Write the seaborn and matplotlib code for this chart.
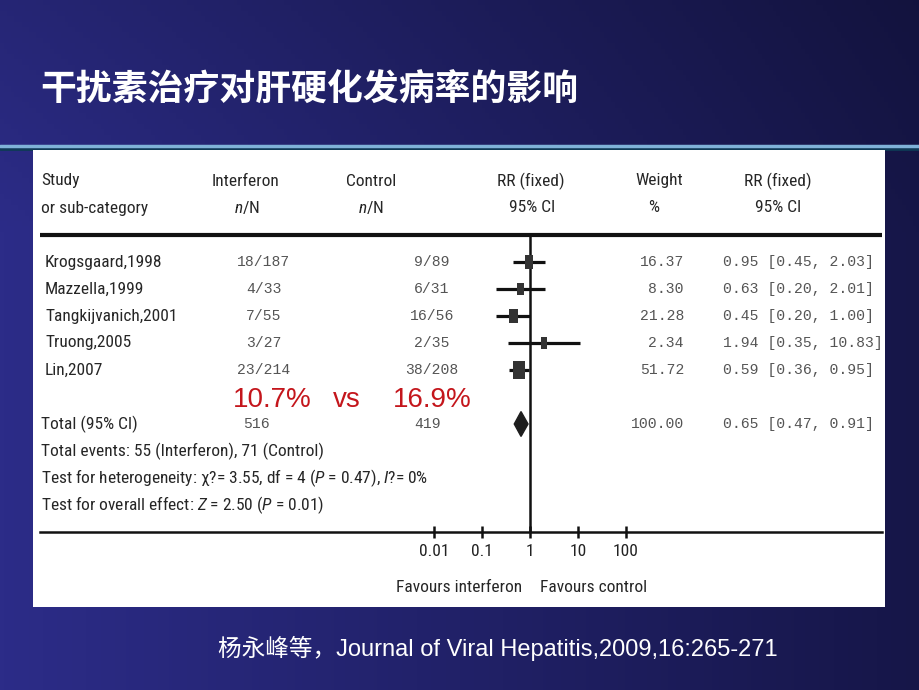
import numpy as np
import matplotlib
matplotlib.use("Agg")
import matplotlib.pyplot as plt
import seaborn as sns
import pandas as pd
from matplotlib.path import Path
from matplotlib.markers import MarkerStyle
from matplotlib import font_manager as fm

# ---------------- data ----------------
title = "干扰素治疗对肝硬化发病率的影响"
citation = "杨永峰等，Journal of Viral Hepatitis,2009,16:265-271"
studies = ["Krogsgaard,1998", "Mazzella,1999", "Tangkijvanich,2001", "Truong,2005", "Lin,2007"]
ifn_events = ["18/187", "4/33", "7/55", "3/27", "23/214"]
ctrl_events = ["9/89", "6/31", "16/56", "2/35", "38/208"]
weights = [16.37, 8.30, 21.28, 2.34, 51.72]
rr = [0.95, 0.63, 0.45, 1.94, 0.59]
rr_lo = [0.45, 0.20, 0.20, 0.35, 0.36]
rr_hi = [2.03, 2.01, 1.00, 10.83, 0.95]
total_ifn = "516"
total_ctrl = "419"
total_rr, total_lo, total_hi = 0.65, 0.47, 0.91
total_weight = 100.00
rate_ifn, rate_ctrl = "10.7%", "16.9%"
x_ticks = [0.01, 0.1, 1, 10, 100]
x_tick_labels = ["0.01", "0.1", "1", "10", "100"]

# ---------------- style ----------------
sns.set_theme(style="white")
entries = fm.fontManager.ttflist
names = {f.name for f in entries}

SANS, STRETCH = "Liberation Sans", "normal"
for cand in ["Liberation Sans Narrow", "Arial Narrow", "Roboto Condensed", "Open Sans Condensed",
             "Noto Sans Condensed", "DejaVu Sans Condensed"]:
    if cand in names:
        SANS = cand
        break
else:
    for f in entries:
        if f.name in ("Noto Sans", "Roboto", "Open Sans", "DejaVu Sans", "Liberation Sans") \
                and str(f.stretch) in ("condensed", "semi-condensed", "extra-condensed") \
                and str(f.style) == "normal":
            SANS, STRETCH = f.name, str(f.stretch)
            break
MONO = "Liberation Mono" if "Liberation Mono" in names else "DejaVu Sans Mono"

plt.rcParams["font.family"] = [SANS, "DejaVu Sans"]
plt.rcParams["mathtext.fontset"] = "custom"
plt.rcParams["mathtext.rm"] = SANS
plt.rcParams["mathtext.it"] = SANS + ":italic"
plt.rcParams["mathtext.bf"] = SANS + ":bold"

W, H = 920, 690
fig = plt.figure(figsize=(W / 100, H / 100), dpi=100)
renderer = fig.canvas.get_renderer()

# fit the table font so that a study name has about the reference width
probe = fig.text(0, 0, "Krogsgaard,1998", fontsize=13, family=SANS, fontstretch=STRETCH)
wpx = probe.get_window_extent(renderer).width
probe.remove()
FS = float(np.clip(13 * 116 / wpx, 11.2, 14))

# background gradient
bg = fig.add_axes([0, 0, 1, 1])
bg.axis("off")
gx = np.linspace(0, 1, 256)
gy = np.linspace(0, 1, 128)
left = np.array([44, 44, 136]) / 255
right = np.array([22, 22, 72]) / 255
grad = left[None, None, :] * (1 - gx[None, :, None]) + right[None, None, :] * gx[None, :, None]
shade = (0.86 + 0.14 * np.clip(gy * 3, 0, 1))[:, None, None]
img = np.clip(grad * shade, 0, 1)
bg.imshow(img, aspect="auto", extent=[0, 1, 0, 1], origin="upper")
bg.set_xlim(0, 1)
bg.set_ylim(0, 1)
bg.axhline(1 - 148.5 / H, color="#0e3a55", lw=2)
bg.axhline(1 - 145.5 / H, color="#7fb2d8", lw=2.5)

fig.text(40 / W, 1 - 90 / H, title, color="white", fontsize=25.8, fontweight="bold",
         family=["Noto Sans CJK SC"], va="center", ha="left")
fig.text(218 / W, 1 - 648 / H, citation, color="white", fontsize=17,
         family=["Liberation Sans", "Noto Sans CJK SC"], va="center", ha="left")

# ---------------- forest panel ----------------
PX0, PX1, PY0, PY1 = 33, 885, 150, 607
X1PX, DEC = 530, 48          # pixel of RR=1 and pixels per decade
ROW0, ROWH = 262, 27         # pixel of first row and row height

ax = fig.add_axes([PX0 / W, 1 - PY1 / H, (PX1 - PX0) / W, (PY1 - PY0) / H])
ax.set_facecolor("white")
ax.set_xscale("log")
ax.set_xlim(10 ** ((PX0 - X1PX) / DEC), 10 ** ((PX1 - X1PX) / DEC))
ax.set_ylim((PY1 - ROW0) / ROWH, (PY0 - ROW0) / ROWH)

def fx(px):
    return (px - PX0) / (PX1 - PX0)

T = ax.get_yaxis_transform()
rows = np.arange(len(studies))
ROW_TOTAL, ROW_RATE, ROW_AXIS = 6, 5.1, 10

# spines / axis
for s in ["left", "top", "right"]:
    ax.spines[s].set_visible(False)
ax.spines["bottom"].set_position(("data", ROW_AXIS))
ax.spines["bottom"].set_bounds(10 ** ((40 - X1PX) / DEC), 10 ** ((882 - X1PX) / DEC))
ax.spines["bottom"].set_linewidth(1.8)
ax.spines["bottom"].set_color("#111111")
ax.set_xticks(x_ticks, x_tick_labels)
ax.xaxis.set_minor_locator(matplotlib.ticker.NullLocator())
ax.tick_params(axis="x", direction="inout", length=8, width=1.8, colors="#111111",
               labelsize=FS, pad=5, bottom=True)
for lab in ax.get_xticklabels():
    lab.set_color("#222222")
    lab.set_fontstretch(STRETCH)
ax.set_yticks([])

# header rule and null line
ax.plot([fx(40), fx(882)], [-1, -1], transform=T, color="#111111", lw=3, solid_capstyle="butt")
ax.vlines(1, -1, ROW_AXIS, color="#111111", lw=1.8, zorder=3)

# CI lines and weighted boxes
ax.hlines(rows, rr_lo, rr_hi, color="#111111", lw=2.3, zorder=3)
df = pd.DataFrame({"rr": rr, "row": rows, "w": weights})
box = Path([(-0.3, -0.5), (0.3, -0.5), (0.3, 0.5), (-0.3, 0.5), (-0.3, -0.5)],
           [Path.MOVETO, Path.LINETO, Path.LINETO, Path.LINETO, Path.CLOSEPOLY])
sns.scatterplot(data=df, x="rr", y="row", size="w", sizes=(63, 187), marker=MarkerStyle(box),
                color="#333333", linewidth=0, legend=False, ax=ax, zorder=4)
ax.set_xlabel("")
ax.set_ylabel("")

# pooled diamond
ax.fill([total_lo, total_rr, total_hi, total_rr],
        [ROW_TOTAL, ROW_TOTAL - 0.46, ROW_TOTAL, ROW_TOTAL + 0.46], color="#1e1e1e", zorder=4)

# texts
HC = "#262626"
hdr = dict(transform=T, fontsize=FS, color=HC, va="center", fontstretch=STRETCH)
ax.text(fx(41), -3, "Study", ha="left", **hdr)
ax.text(fx(41), -2, "or sub-category", ha="left", **hdr)
ax.text(fx(246), -3, "Interferon", ha="center", **hdr)
ax.text(fx(247), -2, "$n$/N", ha="center", **hdr)
ax.text(fx(371), -3, "Control", ha="center", **hdr)
ax.text(fx(371), -2, "$n$/N", ha="center", **hdr)
ax.text(fx(531), -3, "RR (fixed)", ha="center", **hdr)
ax.text(fx(532), -2, "95% CI", ha="center", **hdr)
ax.text(fx(659), -3, "Weight", ha="center", **hdr)
ax.text(fx(654), -2, "%", ha="center", **hdr)
ax.text(fx(778), -3, "RR (fixed)", ha="center", **hdr)
ax.text(fx(778), -2, "95% CI", ha="center", **hdr)

mono = dict(transform=T, fontsize=10.6, color="#555555", va="center", family=MONO)
for i, name in enumerate(studies):
    ax.text(fx(45), i, name, ha="left", **hdr)
    ax.text(fx(264), i, ifn_events[i], ha="center", **mono)
    ax.text(fx(432), i, ctrl_events[i], ha="center", **mono)
    ax.text(fx(684), i, f"{weights[i]:.2f}", ha="right", **mono)
    ax.text(fx(723), i, f"{rr[i]:.2f} [{rr_lo[i]:.2f}, {rr_hi[i]:.2f}]", ha="left", **mono)

red = dict(transform=T, fontsize=20, color="#c4161c", va="center", family="Liberation Sans")
ax.text(fx(233), ROW_RATE, rate_ifn, ha="left", **red)
ax.text(fx(333), ROW_RATE, "vs", ha="left", **red)
ax.text(fx(393), ROW_RATE, rate_ctrl, ha="left", **red)

ax.text(fx(41), ROW_TOTAL, "Total (95% CI)", ha="left", **hdr)
ax.text(fx(256), ROW_TOTAL, total_ifn, ha="center", **mono)
ax.text(fx(428), ROW_TOTAL, total_ctrl, ha="center", **mono)
ax.text(fx(684), ROW_TOTAL, f"{total_weight:.2f}", ha="right", **mono)
ax.text(fx(723), ROW_TOTAL, f"{total_rr:.2f} [{total_lo:.2f}, {total_hi:.2f}]", ha="left", **mono)
ax.text(fx(41), 7, "Total events: 55 (Interferon), 71 (Control)", ha="left", **hdr)
ax.text(fx(41), 8, "Test for heterogeneity: χ?= 3.55, df = 4 ($P$ = 0.47), $I$?= 0%", ha="left", **hdr)
ax.text(fx(41), 9, "Test for overall effect: $Z$ = 2.50 ($P$ = 0.01)", ha="left", **hdr)

ax.text(fx(522), 12.05, "Favours interferon", ha="right", **hdr)
ax.text(fx(540), 12.05, "Favours control", ha="left", **hdr)

fig.savefig("out.png", dpi=100)
